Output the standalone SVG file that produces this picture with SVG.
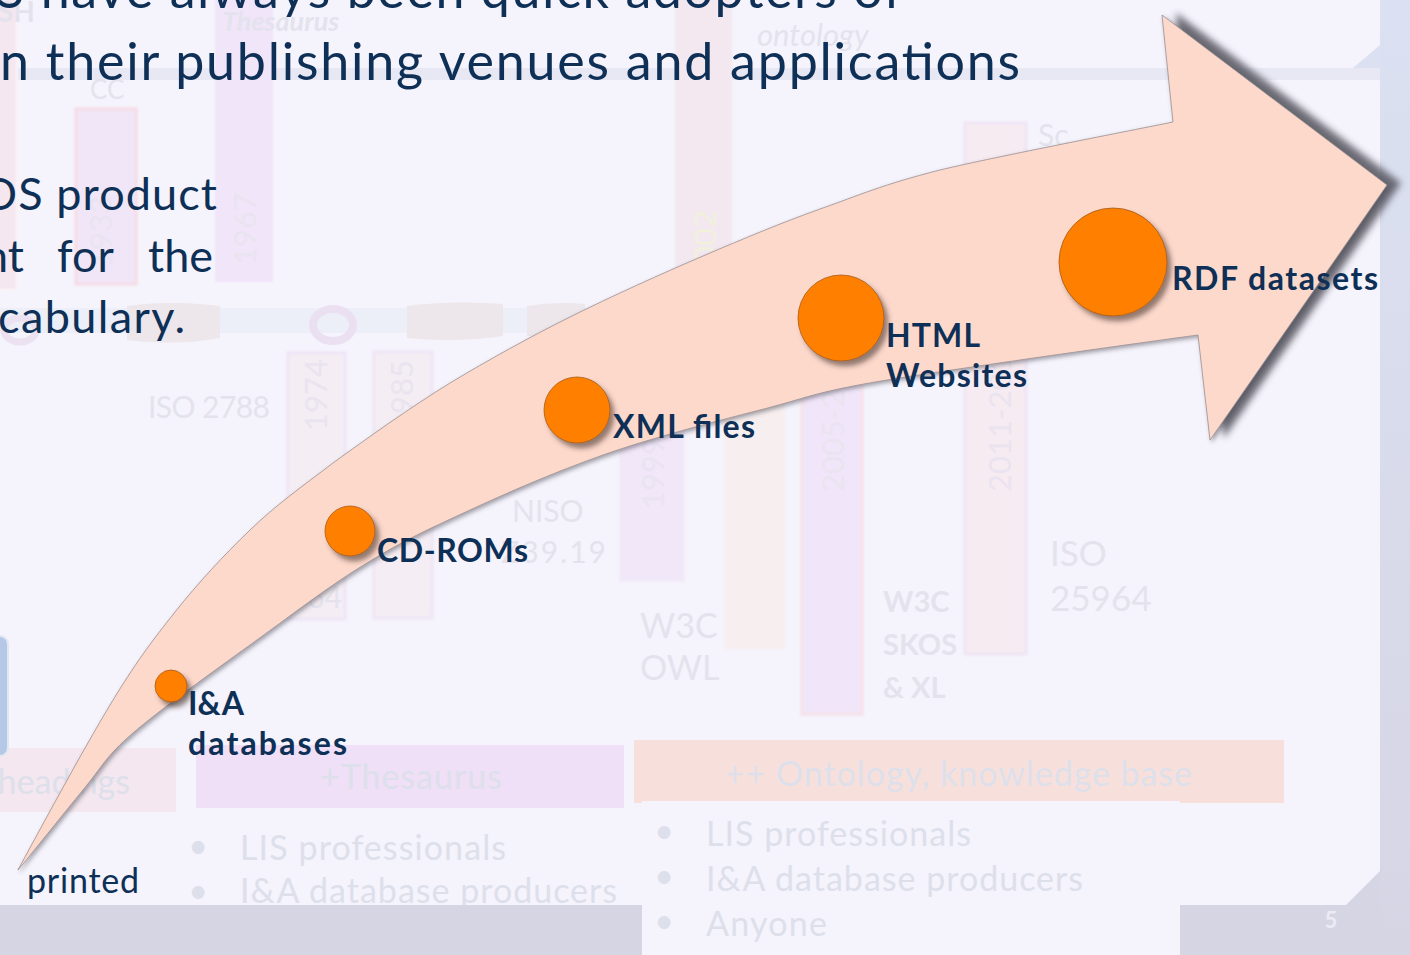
<svg xmlns="http://www.w3.org/2000/svg" width="1410" height="955" viewBox="0 0 1410 955">
  <defs>
    <style>
      .title { font-family: Lato, "Open Sans", "Liberation Sans", sans-serif; fill: #0e2f56; }
      .label { font-family: Lato, "Open Sans", "Liberation Sans", sans-serif; font-weight: bold; font-size: 32px; fill: #0e2f56; }
      .ghost { font-family: Lato, "Open Sans", "Liberation Sans", sans-serif; fill: #e4e3ed; }
      .ghostbox { font-family: Lato, "Open Sans", "Liberation Sans", sans-serif; fill: #dde0eb; font-size: 34px; }
      .vtext { font-family: Lato, "Open Sans", "Liberation Sans", sans-serif; fill: #e9e4f0; font-size: 31px; }
      .col { filter: url(#soft); }
      .dot { fill: #ff8000; stroke: #a55a1e; stroke-width: 0.8; filter: url(#dotShadow); }
    </style>
    <linearGradient id="strip" x1="0" y1="0" x2="0" y2="1">
      <stop offset="0" stop-color="#dbe1f2"/>
      <stop offset="1" stop-color="#d6d5e4"/>
    </linearGradient>
    <filter id="soft" x="-10%" y="-10%" width="120%" height="120%">
      <feGaussianBlur stdDeviation="1"/>
    </filter>
    <filter id="headBlur" x="-20%" y="-20%" width="140%" height="140%">
      <feGaussianBlur stdDeviation="3.5"/>
    </filter>
    <filter id="arrowShadow" x="-5%" y="-5%" width="110%" height="110%">
      <feGaussianBlur in="SourceAlpha" stdDeviation="2"/>
      <feOffset dx="2" dy="2" result="b"/>
      <feFlood flood-color="#4a4a55" flood-opacity="0.5"/>
      <feComposite in2="b" operator="in"/>
      <feMerge><feMergeNode/><feMergeNode in="SourceGraphic"/></feMerge>
    </filter>
    <filter id="dotShadow" x="-40%" y="-40%" width="180%" height="180%">
      <feGaussianBlur in="SourceAlpha" stdDeviation="2.5"/>
      <feOffset dx="4" dy="5" result="b"/>
      <feFlood flood-color="#3d2a22" flood-opacity="0.55"/>
      <feComposite in2="b" operator="in"/>
      <feMerge><feMergeNode/><feMergeNode in="SourceGraphic"/></feMerge>
    </filter>
  </defs>

  <!-- slide frame -->
  <g id="background">
    <rect x="0" y="0" width="1410" height="955" fill="#d6d5e4"/>
    <rect x="1380" y="0" width="30" height="955" fill="url(#strip)"/>
    <rect x="1340" y="0" width="40" height="90" fill="#dce1f2"/>
    <path d="M0,0 H1380 V45 L1353,68 H0 Z" fill="#f5f3fc"/>
    <rect x="0" y="68" width="1380" height="12" fill="#e7e8f4"/>
    <path d="M0,80 H1380 V871 L1346,905 H1180 V955 H642 V905 H0 Z" fill="#f5f3fb"/>
  </g>

  <!-- faded timeline behind the arrow -->
  <g id="timeline-columns" class="col">
    <rect x="-4" y="-5" width="21" height="295" fill="#f5e7ef" stroke="#faf4f7" stroke-width="2"/>
    <rect x="76" y="109" width="60" height="175" fill="#f1e6f7" stroke="#f6dce6" stroke-width="3"/>
    <rect x="215" y="-5" width="58" height="287" fill="#f1e5f9"/>
    <rect x="675" y="-5" width="57" height="285" fill="#f3e8f0"/>
    <rect x="965" y="123" width="61" height="531" fill="#f6ebf1" stroke="#efe5f5" stroke-width="3"/>
    <rect x="288" y="353" width="57" height="266" fill="#f4edf3" stroke="#eee5f6" stroke-width="3"/>
    <rect x="374" y="352" width="58" height="266" fill="#f4edf3" stroke="#eee5f6" stroke-width="3"/>
    <rect x="621" y="430" width="62" height="150" fill="#f2e6f9" stroke="#efe8f6" stroke-width="3"/>
    <rect x="725" y="370" width="60" height="279" fill="#f7efef"/>
    <rect x="802" y="380" width="60" height="334" fill="#f1e6f9" stroke="#f7e1ea" stroke-width="3"/>
  </g>

  <g id="timeline-bar">
    <rect x="0" y="308" width="600" height="25" fill="#eceef8"/>
    <ellipse cx="20" cy="330" rx="16" ry="12" fill="none" stroke="#ebe1f0" stroke-width="7"/>
    <path d="M127,306 Q170,300 220,306 V338 Q175,346 127,340 Z" fill="#ede6ea"/>
    <ellipse cx="333" cy="325" rx="20" ry="16" fill="none" stroke="#ebe0f1" stroke-width="8"/>
    <path d="M407,306 Q450,300 503,304 V336 Q455,343 407,338 Z" fill="#ede6ea"/>
    <path d="M527,306 Q555,301 585,304 V334 Q555,340 527,336 Z" fill="#ede6ea"/>
  </g>

  <g id="timeline-text">
    <text class="ghost" x="-2" y="22" font-size="28" font-weight="bold">SH</text>
    <text class="ghost" x="222" y="31" font-size="27" font-style="italic" font-weight="bold">Thesaurus</text>
    <text class="ghost" x="90" y="99" font-size="26">CC</text>
    <text class="ghost" x="757" y="46" font-size="31" font-style="italic">ontology</text>
    <text class="ghost" x="1038" y="146" font-size="30">Sc</text>
    <text class="vtext" transform="translate(112,268) rotate(-90)">1933</text>
    <text class="vtext" transform="translate(256,265) rotate(-90)">1967</text>
    <text class="vtext" transform="translate(716,282) rotate(-90)" style="fill:#f1f0dc">2002</text>
    <text class="vtext" transform="translate(327,431) rotate(-90)">1974</text>
    <text class="vtext" transform="translate(413,432) rotate(-90)">1985</text>
    <text class="vtext" transform="translate(664,509) rotate(-90)">1999</text>
    <text class="vtext" transform="translate(844,492) rotate(-90)">2005-2009</text>
    <text class="vtext" transform="translate(1011,492) rotate(-90)">2011-2013</text>
    <text class="ghost" x="148" y="418" font-size="30" textLength="122">ISO 2788</text>
    <text class="ghost" x="342" y="608" font-size="30" text-anchor="end">1964</text>
    <text class="ghost" x="512" y="522" font-size="30">NISO</text>
    <text class="ghost" x="608" y="563" font-size="30" text-anchor="end" letter-spacing="2">Z39.19</text>
    <text class="ghost" x="640" y="638" font-size="34">W3C</text>
    <text class="ghost" x="640" y="680" font-size="34">OWL</text>
    <text class="ghost" x="883" y="612" font-size="29" font-weight="bold">W3C</text>
    <text class="ghost" x="883" y="655" font-size="29" font-weight="bold">SKOS</text>
    <text class="ghost" x="883" y="698" font-size="29" font-weight="bold">&amp; XL</text>
    <text class="ghost" x="1050" y="566" font-size="35">ISO</text>
    <text class="ghost" x="1050" y="611" font-size="35">25964</text>
  </g>

  <!-- faded category boxes and audiences -->
  <g id="categories">
    <rect x="-2" y="748" width="178" height="64" fill="#f4e7ef"/>
    <text class="ghostbox" x="130" y="794" text-anchor="end">headings</text>
    <rect x="196" y="745" width="428" height="63" fill="#efdff7"/>
    <text class="ghostbox" x="320" y="789" textLength="182">+Thesaurus</text>
    <rect x="634" y="740" width="650" height="63" fill="#f7e0dc"/>
    <text class="ghostbox" x="725" y="786" font-size="35" textLength="467">++ Ontology, knowledge base</text>
    <rect x="642" y="801" width="538" height="6" fill="#f5f3fb"/>
  </g>

  <g id="audiences">
    <text class="ghostbox" x="198" y="858" text-anchor="middle" font-size="28">•</text>
    <text class="ghostbox" x="240" y="860" font-size="33" textLength="266">LIS professionals</text>
    <text class="ghostbox" x="198" y="903" text-anchor="middle" font-size="28">•</text>
    <text class="ghostbox" x="240" y="903" font-size="33" textLength="377">I&amp;A database producers</text>
    <text class="ghostbox" x="664" y="843" text-anchor="middle" font-size="28">•</text>
    <text class="ghostbox" x="706" y="846" font-size="33" textLength="265">LIS professionals</text>
    <text class="ghostbox" x="664" y="888" text-anchor="middle" font-size="28">•</text>
    <text class="ghostbox" x="706" y="891" font-size="33" textLength="377">I&amp;A database producers</text>
    <text class="ghostbox" x="664" y="933" text-anchor="middle" font-size="28">•</text>
    <text class="ghostbox" x="706" y="936" font-size="33" textLength="121">Anyone</text>
  </g>

  <!-- bottom band over the list edge -->
  <g id="footer">
    <rect x="0" y="905" width="642" height="50" fill="#d6d5e4"/>
    <text x="1331" y="928" text-anchor="middle" font-family="Lato, 'Liberation Sans', sans-serif" font-weight="bold" font-size="22" fill="#ecebf5">5</text>
    <rect x="-12" y="636" width="20" height="120" rx="8" fill="#b5c9e7" stroke="#e1e8f4" stroke-width="2"/>
  </g>

  <!-- slide text -->
  <g id="slide-text">
    <text class="title" x="-4" y="8" font-size="52" textLength="906" lengthAdjust="spacing">S have always been quick adopters of</text>
    <text class="title" x="0" y="80" font-size="52" textLength="1020" lengthAdjust="spacing">n their publishing venues and applications</text>
    <text class="title" x="-19" y="210" font-size="45" textLength="236" lengthAdjust="spacing">OS product</text>
    <text class="title" y="272" font-size="45"><tspan x="-17">nt</tspan><tspan x="57">for</tspan><tspan x="148">the</tspan></text>
    <text class="title" x="-2" y="333" font-size="45" textLength="187" lengthAdjust="spacing">cabulary.</text>
    <text class="title" x="27" y="893" font-size="34" textLength="112" lengthAdjust="spacing">printed</text>
  </g>

  <!-- the evolution arrow -->
  <g id="connectors">
    <polygon points="1176,13 1401,183 1224,438 1190,250" fill="#55555f" opacity="0.85" filter="url(#headBlur)"/>
    <path d="M18,870 C33,842 84,748 110,705 C136,662 152,641 175,612 C198,583 224,555 250,530 C276,505 300,488 333,463 C366,439 411,407 450,383 C490,359 528,338 570,317 C612,296 661,274 703,256 C745,238 781,223 820,209 C860,195 881,185 940,170 C999,156 1134,130 1173,122 L1162,15 L1387,185 L1210,440 L1198,335 C1146,342 960,368 887,380 C814,392 807,398 760,410 C713,422 651,438 603,455 C555,472 509,492 470,510 C431,528 404,540 367,563 C330,585 289,617 250,645 C211,673 161,709 133,733 C105,757 102,767 83,790 C64,813 29,857 18,870 Z" fill="#fdd9cc" stroke="#9b8f92" stroke-width="0.8" filter="url(#arrowShadow)"/>
  </g>

  <!-- stages along the arrow -->
  <g id="node-ia">
    <circle class="dot" cx="171" cy="686" r="16"/>
    <text class="label" x="188" y="715" font-size="31">I&amp;A</text>
    <text class="label" x="188" y="755" font-size="31" textLength="159" lengthAdjust="spacing">databases</text>
  </g>
  <g id="node-cdrom">
    <circle class="dot" cx="350" cy="531" r="25"/>
    <text class="label" x="377" y="562" font-size="31" textLength="151" lengthAdjust="spacing">CD-ROMs</text>
  </g>
  <g id="node-xml">
    <circle class="dot" cx="577" cy="410" r="33"/>
    <text class="label" x="613" y="438" font-size="31" textLength="142" lengthAdjust="spacing">XML files</text>
  </g>
  <g id="node-html">
    <circle class="dot" cx="841" cy="318" r="43"/>
    <text class="label" x="886" y="347" font-size="31" textLength="94" lengthAdjust="spacing">HTML</text>
    <text class="label" x="886" y="387" font-size="31" textLength="141" lengthAdjust="spacing">Websites</text>
  </g>
  <g id="node-rdf">
    <circle class="dot" cx="1113" cy="262" r="54"/>
    <text class="label" x="1172" y="290" font-size="31" textLength="206" lengthAdjust="spacing">RDF datasets</text>
  </g>
</svg>
